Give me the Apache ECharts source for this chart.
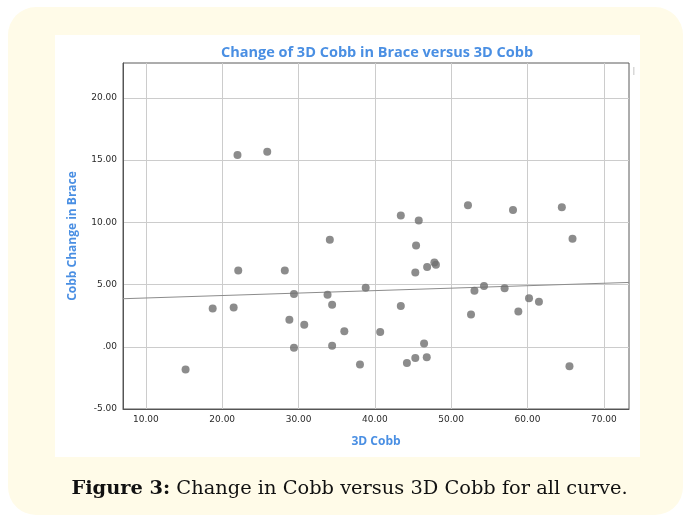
<!DOCTYPE html>
<html>
<head>
<meta charset="utf-8">
<script src="https://cdn.jsdelivr.net/npm/echarts@6/dist/echarts.min.js"></script>
<style>
html,body{margin:0;padding:0;background:#fff;}
#outer{position:absolute;left:8px;top:7px;width:675px;height:508px;background:#fffbe8;border-radius:28px;}
#panel{position:absolute;left:55px;top:35px;width:585px;height:422px;background:#fff;}
#chart{position:absolute;left:0;top:0;width:685px;height:516px;}
</style>
</head>
<body>
<div id="outer"></div>
<div id="panel"></div>
<div id="chart"></div>
<script>
// Data
var cobb3D = [15.2, 18.75, 21.5, 22.0, 22.1, 25.9, 28.2, 28.8, 29.4, 29.4, 30.75, 33.8, 34.1, 34.4, 34.4, 36.0, 38.05, 38.8, 40.7, 43.4, 43.4, 44.2, 45.3, 45.3, 45.4, 45.75, 46.45, 46.8, 46.85, 47.8, 48.0, 52.2, 52.6, 53.05, 54.3, 57.0, 58.1, 58.8, 60.2, 61.5, 64.5, 65.5, 65.9];
var cobbChange = [-1.82, 3.08, 3.16, 15.4, 6.13, 15.66, 6.13, 2.17, 4.23, -0.08, 1.77, 4.18, 8.6, 3.37, 0.08, 1.24, -1.42, 4.74, 1.18, 10.55, 3.27, -1.31, 5.97, -0.91, 8.14, 10.15, 0.27, -0.85, 6.4, 6.78, 6.59, 11.38, 2.6, 4.5, 4.88, 4.71, 10.98, 2.84, 3.89, 3.61, 11.22, -1.57, 8.67];
var fitX = [7, 73.3];
var fitY = [3.86, 5.17];
var xTicks = [10, 20, 30, 40, 50, 60, 70];
var yTicks = [-5, 0, 5, 10, 15, 20];

var points = cobb3D.map(function (x, i) { return [x, cobbChange[i]]; });
var fitLine = fitX.map(function (x, i) { return [x, fitY[i]]; });

var blue = '#4a8fe3';
var chart = echarts.init(document.getElementById('chart'), null, {renderer: 'canvas'});
var fmt = function (v) { return v === 0 ? '.00' : v.toFixed(2); };

chart.setOption({
  backgroundColor: 'transparent',
  animation: false,
  grid: {left: 123, top: 63, width: 506, height: 346, show: true, backgroundColor: '#fff', borderColor: '#5a5a5a', borderWidth: 1},
  xAxis: {
    type: 'value', min: 7, max: 73.3,
    name: '3D Cobb', nameLocation: 'middle', nameGap: 27,
    nameTextStyle: {color: blue, fontWeight: 'bold', fontSize: 12, fontFamily: 'Open Sans'},
    axisLine: {show: true, onZero: false, lineStyle: {color: '#555', width: 1}},
    axisTick: {show: false, customValues: xTicks},
    axisLabel: {customValues: xTicks, formatter: fmt, margin: 6, color: '#2a2a2a', fontSize: 9, fontFamily: 'DejaVu Sans'},
    splitLine: {show: true, lineStyle: {color: '#cccccc', width: 1}}
  },
  yAxis: {
    type: 'value', min: -5, max: 22.8,
    name: 'Cobb Change in Brace', nameLocation: 'middle', nameGap: 44,
    nameTextStyle: {color: blue, fontWeight: 'bold', fontSize: 12, fontFamily: 'Open Sans'},
    axisLine: {show: true, onZero: false, lineStyle: {color: '#555', width: 1}},
    axisTick: {show: false, customValues: yTicks},
    axisLabel: {customValues: yTicks, formatter: fmt, margin: 6, color: '#2a2a2a', fontSize: 9, fontFamily: 'DejaVu Sans'},
    splitLine: {show: true, lineStyle: {color: '#cccccc', width: 1}}
  },
  series: [
    {
      type: 'line', data: fitLine, symbol: 'none', silent: true,
      lineStyle: {color: '#8c8c8c', width: 1}, z: 3
    },
    {
      type: 'scatter', data: points, symbolSize: 8,
      itemStyle: {color: '#6f6f6f'}, z: 4
    }
  ],
  graphic: [
    {type: 'text', x: 377, y: 53, style: {text: 'Change of 3D Cobb in Brace versus 3D Cobb', fill: blue, font: 'bold 14.5px "Open Sans"', align: 'center', verticalAlign: 'middle'}},
    {type: 'rect', shape: {x: 633, y: 67, width: 1.5, height: 8}, style: {fill: '#d8d8d8'}},
    {type: 'text', x: 349.5, y: 489, style: {
      text: '{b|Figure 3:} Change in Cobb versus 3D Cobb for all curve.',
      fill: '#111', fontSize: 19.4, fontFamily: 'DejaVu Serif', align: 'center', verticalAlign: 'middle',
      rich: {b: {fontWeight: 'bold', fontSize: 19.4, fontFamily: 'DejaVu Serif', fill: '#111'}}
    }}
  ]
});
</script>
</body>
</html>
